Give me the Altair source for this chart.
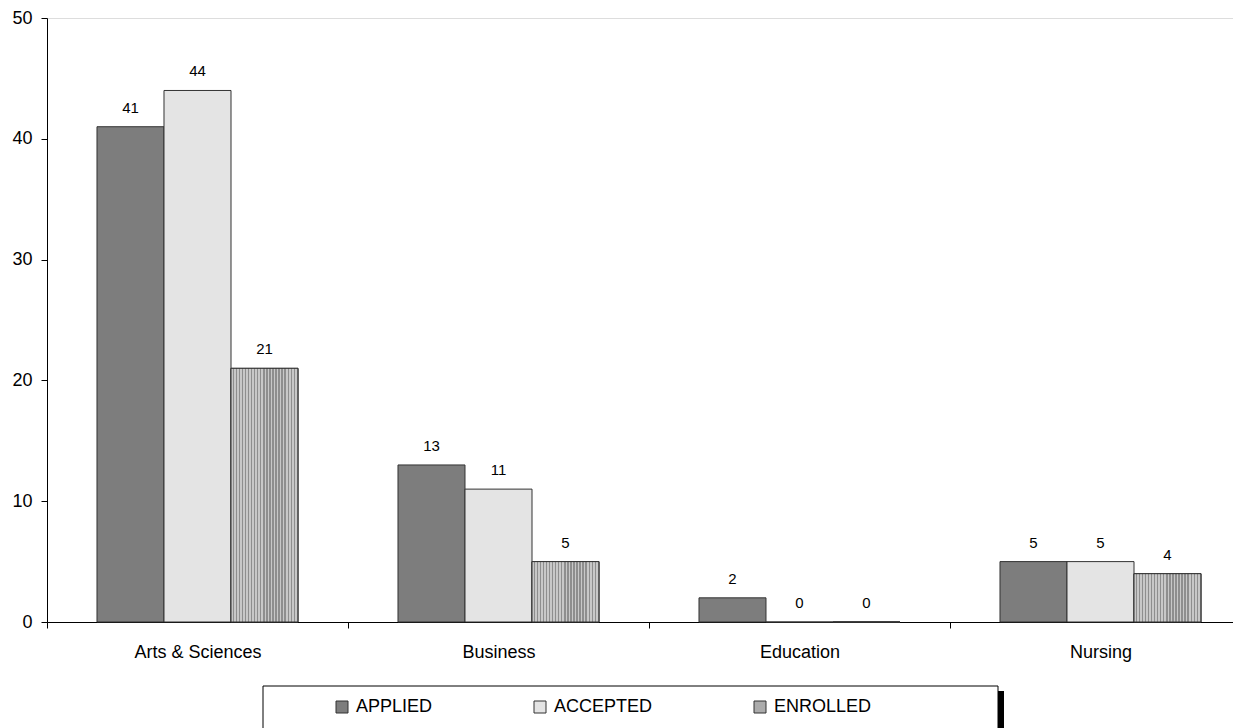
import altair as alt
import pandas as pd

categories = ["Arts & Sciences", "Business", "Education", "Nursing"]
series = ["APPLIED", "ACCEPTED", "ENROLLED"]
applied = [41, 13, 2, 5]
accepted = [44, 11, 0, 5]
enrolled = [21, 5, 0, 4]
y_ticks = [0, 10, 20, 30, 40, 50]

rows = []
for i, c in enumerate(categories):
    for s, vals in zip(series, [applied, accepted, enrolled]):
        rows.append({"category": c, "series": s, "value": vals[i]})
df = pd.DataFrame(rows)

FONT = "Liberation Sans"

x_enc = alt.X("category:N", sort=categories, title=None,
              scale=alt.Scale(range=[0, 1204], paddingInner=0, paddingOuter=0),
              axis=alt.Axis(labelAngle=0, labelFontSize=18, labelFont=FONT, labelColor="#000",
                            tickBand="extent", tickSize=6, labelPadding=15,
                            domainColor="#000", tickColor="#000", labelLimit=400))
xo_enc = alt.XOffset("series:N", sort=series,
                     scale=alt.Scale(domain=series, paddingInner=0, paddingOuter=0.746))
y_enc = alt.Y("value:Q", title=None,
              scale=alt.Scale(domain=[0, 50], nice=False),
              axis=alt.Axis(values=y_ticks, grid=False, labelFontSize=18, labelFont=FONT,
                            labelColor="#000", tickSize=6, labelPadding=9,
                            domainColor="#000", tickColor="#000"))

base = alt.Chart(df)

bars = base.mark_bar(stroke="#333", strokeWidth=1, clip=False).encode(
    x=x_enc, xOffset=xo_enc, y=y_enc,
    color=alt.Color("series:N", sort=series,
                    scale=alt.Scale(domain=series, range=["#7d7d7d", "#e4e4e4", "#ababab"]),
                    legend=alt.Legend(title=None, orient="none", legendX=286, legendY=680,
                                      direction="horizontal", symbolType="square",
                                      symbolSize=144, symbolStrokeColor="#333",
                                      symbolStrokeWidth=1, labelFontSize=18, labelFont=FONT,
                                      labelColor="#000", labelOffset=5, columnPadding=98,
                                      padding=0))
)

n = 22
stops = []
for i in range(n):
    stops.append(alt.GradientStop(offset=i / n, color="#c8c8c8"))
    stops.append(alt.GradientStop(offset=(i + 0.55) / n, color="#c8c8c8"))
    stops.append(alt.GradientStop(offset=(i + 0.55) / n, color="#8e8e8e"))
    stops.append(alt.GradientStop(offset=(i + 1) / n, color="#8e8e8e"))
stripe = alt.LinearGradient(gradient="linear", stops=stops, x1=0, x2=1, y1=0, y2=0)

stripes = base.transform_filter(alt.datum.series == "ENROLLED").mark_bar(
    fill=stripe, stroke="#333", strokeWidth=1, clip=False
).encode(x=alt.X("category:N", sort=categories), xOffset=xo_enc, y=alt.Y("value:Q"))

labels = base.mark_text(baseline="alphabetic", dy=-14, fontSize=15, font=FONT, color="#000").encode(
    x=alt.X("category:N", sort=categories), xOffset=xo_enc, y=alt.Y("value:Q"),
    text=alt.Text("value:Q")
)

one = alt.Chart(pd.DataFrame({"a": [0]}))
legend_box = one.mark_rect(fill="white", stroke="#000", strokeWidth=1, clip=False).encode(
    x=alt.value(216), x2=alt.value(951), y=alt.value(668), y2=alt.value(740)
)
legend_shadow = one.mark_rect(fill="#000", clip=False).encode(
    x=alt.value(951), x2=alt.value(957), y=alt.value(673), y2=alt.value(740)
)

chart = alt.layer(legend_box, legend_shadow, bars, stripes, labels).properties(
    width=1186, height=604,
    autosize=alt.AutoSizeParams(type="none"),
    padding={"left": 39, "top": 10, "right": 0, "bottom": 106},
).configure_view(stroke=None).configure(background="white")

chart.save("out.html", embed_options={"renderer": "svg", "actions": False})
